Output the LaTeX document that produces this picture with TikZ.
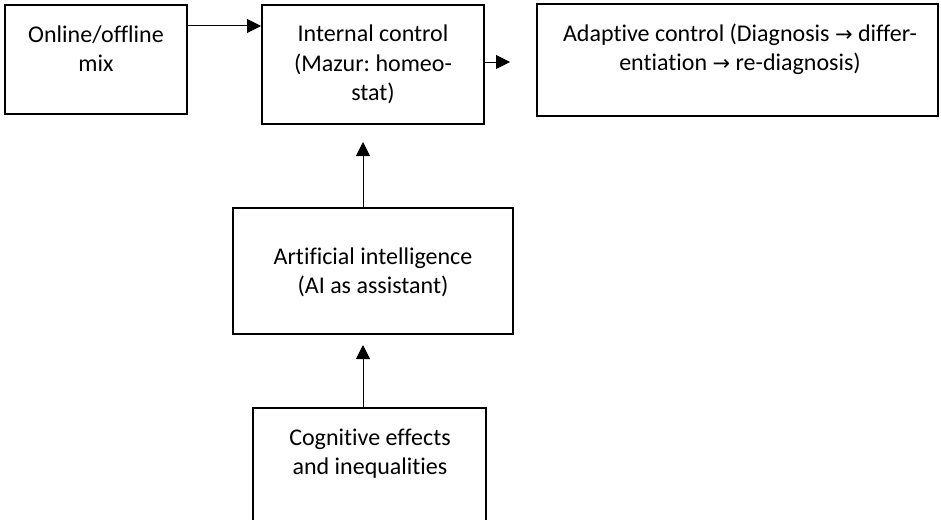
\documentclass[tikz,border=0pt]{standalone}
\usepackage{fontspec}
\setmainfont[Ligatures=NoCommon]{Carlito}
\newfontfamily\arrfont{DejaVu Sans}
\newcommand{\rarr}{{\arrfont\fontsize{21}{29.3}\selectfont →}}
\frenchspacing
\usetikzlibrary{arrows.meta}
\tikzset{
  boxstyle/.style={draw=black, line width=2pt, inner sep=0pt},
  txt/.style={align=center, inner sep=0pt, font=\fontsize{24}{29.3}\selectfont},
  conn/.style={draw=black, line width=1pt, -{Triangle[length=14pt,width=14pt]}}
}
\begin{document}
\begin{tikzpicture}[x=1pt,y=-1pt]
\clip (0,0) rectangle (941,519);
% boxes
\node[boxstyle, minimum width=182pt, minimum height=109pt] (online) at (96,59.5) {};
\node[boxstyle, minimum width=222pt, minimum height=119pt] (internal) at (373,64.5) {};
\node[boxstyle, minimum width=401pt, minimum height=112pt] (adaptive) at (737.5,60) {};
\node[boxstyle, minimum width=280pt, minimum height=126pt] (ai) at (373,271) {};
\node[boxstyle, minimum width=233pt, minimum height=124pt] (cog) at (369.5,470) {};
% texts
\node[txt] (online-t) at (96,48.7) {Online/offline\\mix};
\node[txt] (internal-t) at (373,64.5) {Internal control\\(Mazur: homeo-\\stat)};
\node[txt] (adaptive-t) at (740,49.3) {Adaptive control (Diagnosis \rarr{} differ-\\entiation \rarr{} re-diagnosis)};
\node[txt] (ai-t) at (373,272) {Artificial intelligence\\(AI as assistant)};
\node[txt] (cog-t) at (370,453.5) {Cognitive effects\\and inequalities};
% connectors
\coordinate (r1) at (0,26);
\coordinate (r2) at (0,62);
\coordinate (e2) at (510,62);
\coordinate (c3) at (363,0);
\coordinate (e3) at (363,142);
\coordinate (e4) at (363,345);
\draw[conn] (online.east |- r1) -- (internal.west |- r1);
\draw[conn] (internal.east |- r2) -- (e2);
\draw[conn] (ai.north -| c3) -- (e3);
\draw[conn] (cog.north -| c3) -- (e4);
\end{tikzpicture}
\end{document}
